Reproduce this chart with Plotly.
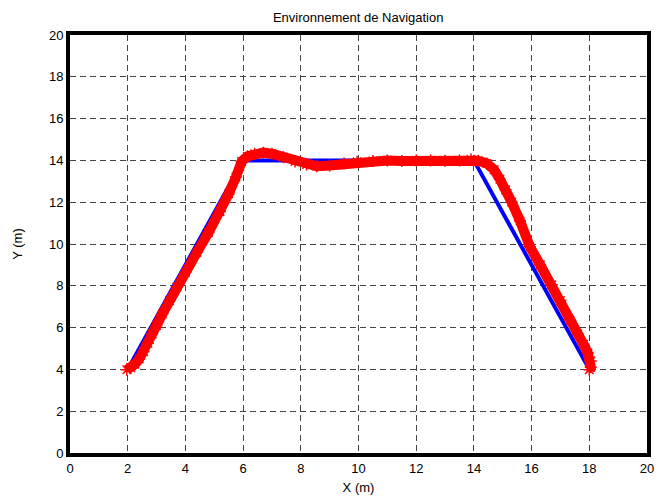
import plotly.graph_objects as go

# Reference path (blue)
ref_x = [2, 6, 14, 18]
ref_y = [4, 14, 14, 4]

# Robot trajectory (red)
traj_x = [1.97, 2.1, 2.25, 2.4, 2.55, 2.7, 2.85, 3.0, 3.2, 3.45, 3.7, 4.0, 4.4, 4.8, 5.2, 5.5, 5.75, 5.95,
          6.15, 6.4, 6.7, 7.0, 7.4, 7.8, 8.2, 8.55, 9.0, 9.5, 9.95, 10.5, 11.0, 11.5, 12.0, 12.5, 13.0, 13.5, 13.9,
          14.15, 14.45, 14.7, 14.9, 15.1, 15.31, 15.6, 15.94, 16.3, 16.7, 17.0, 17.33, 17.6, 17.8, 17.95, 18.05, 18.05, 18.0]
traj_y = [3.98, 4.08, 4.25, 4.5, 4.85, 5.25, 5.7, 6.1, 6.65, 7.3, 7.95, 8.65, 9.6, 10.55, 11.55, 12.4, 13.2, 13.95,
          14.2, 14.32, 14.37, 14.32, 14.15, 13.95, 13.8, 13.72, 13.76, 13.85, 13.93, 13.97, 14.0, 13.97, 13.99, 14.0, 13.98, 14.0, 14.04,
          13.98, 13.85, 13.55, 13.1, 12.6, 12.0, 11.1, 9.87, 9.0, 8.05, 7.3, 6.36, 5.7, 5.2, 4.78, 4.4, 4.1, 3.98]

x_ticks = list(range(0, 21, 2))
y_ticks = list(range(0, 21, 2))

FONT = dict(family="Arial", size=13, color="black")

fig = go.Figure()
fig.add_trace(go.Scatter(x=ref_x, y=ref_y, mode="lines",
                         line=dict(color="#0000ff", width=4), showlegend=False))
fig.add_trace(go.Scatter(x=traj_x, y=traj_y, mode="lines+markers",
                         line=dict(color="#ff0000", width=10),
                         marker=dict(symbol="asterisk-open", size=10, color="#ff0000",
                                     line=dict(color="#ff0000", width=1.5)),
                         showlegend=False))

axis_common = dict(
    showline=True, linecolor="black", linewidth=4, mirror=True,
    showgrid=True, gridcolor="#444444", gridwidth=1, griddash="6px,4px",
    zeroline=False, ticks="", tickfont=FONT, automargin=False,
)

fig.update_layout(
    width=672, height=499,
    margin=dict(l=70, r=25, t=35, b=46),
    paper_bgcolor="white", plot_bgcolor="white",
    title=dict(text="Environnement de Navigation", x=0.533, xanchor="center", y=0.966, yanchor="middle",
               font=FONT),
    xaxis=dict(range=[0, 20], tickvals=x_ticks, ticktext=[str(v) for v in x_ticks],
               title=dict(text="X (m)", standoff=9, font=FONT),
               **axis_common),
    yaxis=dict(range=[0, 20], tickvals=y_ticks, ticktext=[str(v) for v in y_ticks],
               title=dict(text="Y (m)", standoff=24, font=FONT),
               **axis_common),
)

fig.write_html("out.html", config={"displayModeBar": False})

# remove the browser's default body margin so the figure sits at the page origin
with open("out.html", "r", encoding="utf-8") as f:
    html = f.read()
html = html.replace("<body>", '<body style="margin:0;padding:0">', 1)
with open("out.html", "w", encoding="utf-8") as f:
    f.write(html)
